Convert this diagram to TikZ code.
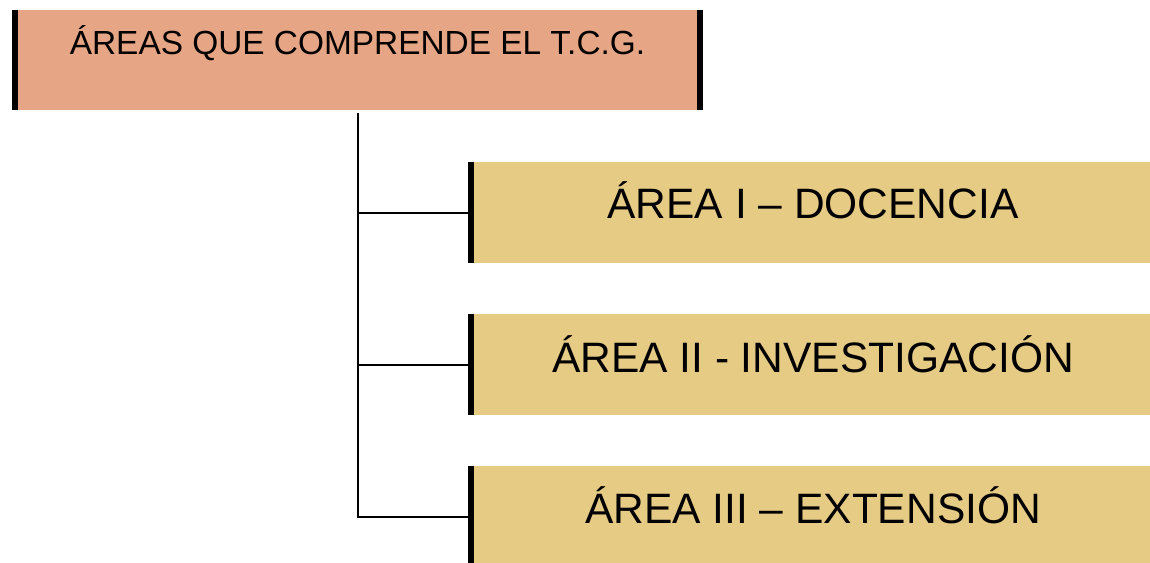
\documentclass[tikz,border=0pt]{standalone}
\usepackage{fontspec}
\setmainfont{Liberation Sans}
\definecolor{salmon}{HTML}{E6A584}
\definecolor{sand}{HTML}{E6CB84}
\begin{document}
\begin{tikzpicture}[x=1pt,y=-1pt,
		box/.style={draw=none,inner sep=0pt,minimum height=101pt},
		bar/.style={line width=6pt},
		link/.style={line width=2pt},
		big/.style={anchor=base,inner sep=0pt,font=\fontsize{42.5}{44}\selectfont}]
	\useasboundingbox (0,0) rectangle (1150,562);
	\node[box,fill=salmon,minimum width=691pt,minimum height=100pt] (root) at (357.5,60) {};
	\node[anchor=base,inner sep=0pt,font=\fontsize{33.4}{34}\selectfont] (roottext) at ([yshift=5.5pt]root.center) {ÁREAS QUE COMPRENDE EL T.C.G.};
	\draw[bar] ([xshift=3pt]root.north west) -- ([xshift=3pt]root.south west);
	\draw[bar] ([xshift=-3pt]root.north east) -- ([xshift=-3pt]root.south east);
	% areas
	\node[box,fill=sand,minimum width=682pt] (docencia) at (809,212.5) {};
	\node[box,fill=sand,minimum width=682pt] (investigacion) at (809,364.5) {};
	\node[box,fill=sand,minimum width=682pt] (extension) at (809,516.5) {};
	\node[big] (docenciatext) at ([xshift=4pt,yshift=-5.5pt]docencia.center) {ÁREA I – DOCENCIA};
	\node[big] (investigaciontext) at ([xshift=4pt,yshift=-7.5pt]investigacion.center) {ÁREA II - INVESTIGACIÓN};
	\node[big] (extensiontext) at ([xshift=4pt,yshift=-6.5pt]extension.center) {ÁREA III – EXTENSIÓN};
	\foreach \n in {docencia,investigacion,extension} {
		\draw[link] ([yshift=-3pt]root.south) |- (\n.west);
		\draw[bar] ([xshift=3pt]\n.north west) -- ([xshift=3pt]\n.south west);
	}
\end{tikzpicture}
\end{document}
